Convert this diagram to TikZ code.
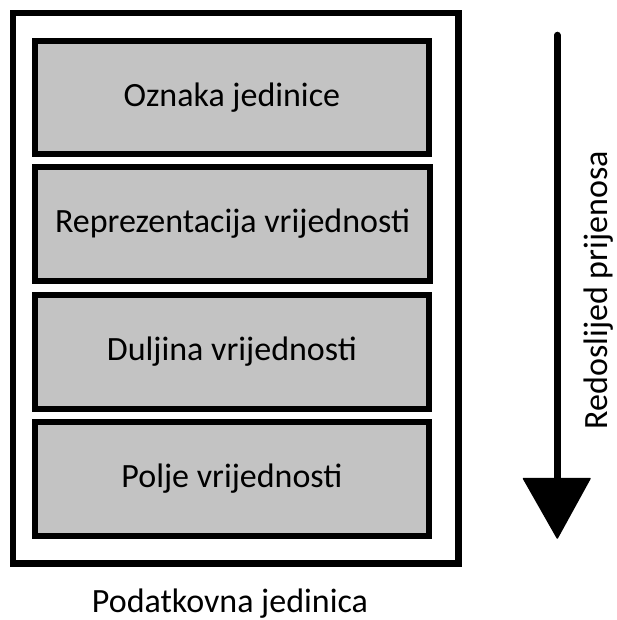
\documentclass[tikz,border=0pt]{standalone}
\usepackage{fontspec}
\setmainfont{Carlito}
\definecolor{boxgray}{RGB}{195,195,195}
\begin{document}
\begin{tikzpicture}[x=1pt,y=-1pt,
  field/.style={draw=black,fill=boxgray,line width=6pt,minimum width=394.3pt,minimum height=113.5pt,inner sep=0pt,font=\fontsize{34}{40}\selectfont},
  unitbox/.style={draw=black,line width=6.5pt},
  lbl/.style={font=\fontsize{34}{40}\selectfont,inner sep=0pt,text height=22pt,text depth=5pt}]
\useasboundingbox (0,0) rectangle (617,620);
\draw[unitbox] (13,13) rectangle (458.5,563.5);
\node[field] (f1) at (231.9,97.3) {Oznaka jedinice};
\node[field] (f2) at (232.5,224) {Reprezentacija vrijednosti};
\node[field] (f3) at (231.9,352) {Duljina vrijednosti};
\node[field] (f4) at (231.9,478.9) {Polje vrijednosti};
\node[lbl,anchor=base] (unit) at (230,612) {Podatkovna jedinica};
\coordinate (atop) at (557.3,35);
\coordinate (abase) at (557.3,480);
\draw[line width=6.5pt,line cap=round] (atop) -- (abase);
\filldraw[line width=1.5pt,line join=round] (523.5,478.5) -- (590,478.5) -- (557.3,538) -- cycle;
\node[lbl,rotate=90,anchor=base] (order) at (607,290) {Redoslijed prijenosa};
\end{tikzpicture}
\end{document}
